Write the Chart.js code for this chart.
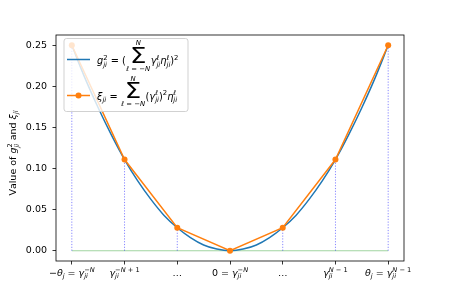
<!DOCTYPE html>
<html>
<head>
<meta charset="utf-8">
<script src="https://cdn.jsdelivr.net/npm/chart.js@4"></script>
<style>
  body { margin: 0; background: #fff; }
  #wrap { width: 449px; height: 285px; }
</style>
</head>
<body>
<div id="wrap"><canvas id="chart"></canvas></div>
<script>
// grid positions gamma_ji^l (in steps) and the xi values at them
const xPositions = [-3, -2, -1, 0, 1, 2, 3];
const xiValues = [0.25, 0.111, 0.028, 0, 0.028, 0.111, 0.25];

// smooth g^2 curve
const curveX = [-3, -2.75, -2.5, -2.25, -2, -1.75, -1.5, -1.25, -1, -0.75, -0.5, -0.25, 0,
                0.25, 0.5, 0.75, 1, 1.25, 1.5, 1.75, 2, 2.25, 2.5, 2.75, 3];
const curveY = [0.25, 0.210, 0.174, 0.141, 0.111, 0.085, 0.0625, 0.043, 0.028, 0.016, 0.007, 0.002, 0,
                0.002, 0.007, 0.016, 0.028, 0.043, 0.0625, 0.085, 0.111, 0.141, 0.174, 0.210, 0.25];

const yTicks = [0, 0.05, 0.10, 0.15, 0.20, 0.25];
const xTickLabels = [
  '$−θ_{j} = γ_{ji}^{−N}$',
  '$γ_{ji}^{−N + 1}$',
  '$…$',
  '$0 = γ_{ji}^{−N}$',
  '$…$',
  '$γ_{ji}^{N − 1}$',
  '$θ_{j} = γ_{ji}^{N − 1}$'
];
const legendLabels = [
  '$g_{ji}^{2} = (Σ_{ℓ = −N}^{N}γ_{ji}^{ℓ}η_{ji}^{ℓ})^{2}$',
  '$ξ_{ji} = Σ_{ℓ = −N}^{N}(γ_{ji}^{ℓ})^{2}η_{ji}^{ℓ}$'
];
const yLabel = 'Value of $g_{ji}^{2}$ and $ξ_{ji}$';

const BLUE = '#1f77b4';
const ORANGE = '#ff7f0e';
const FONT = '"DejaVu Sans"';

// --- tiny mathtext-ish renderer ---
function parseMath(s) {
  const out = [];
  let math = false, i = 0;
  while (i < s.length) {
    const c = s[i];
    if (c === '$') { math = !math; i++; continue; }
    if (c === '_' || c === '^') {
      i++;
      let g;
      if (s[i] === '{') { const j = s.indexOf('}', i); g = s.slice(i + 1, j); i = j + 1; }
      else { g = s[i]; i++; }
      const last = out[out.length - 1];
      last[c === '_' ? 'sub' : 'sup'] = g;
      continue;
    }
    out.push({ c: c, m: math });
    i++;
  }
  return out;
}

function fontFor(c, size, math) {
  return (math && /[A-Za-zα-ωℓ]/.test(c) ? 'italic ' : '') + size + 'px ' + FONT;
}
function runWidth(ctx, s, size, math) {
  let w = 0;
  for (const c of s) { ctx.font = fontFor(c, size, math); w += ctx.measureText(c).width; }
  return w;
}
function drawRun(ctx, s, x, y, size, math) {
  for (const c of s) {
    ctx.font = fontFor(c, size, math);
    ctx.fillText(c, x, y);
    x += ctx.measureText(c).width;
  }
  return x;
}

function tokenWidth(ctx, t, size) {
  const ss = size * 0.7;
  if (t.c === 'Σ' && t.m) {
    return Math.max(size * 16 / 9.5, runWidth(ctx, t.sub || '', ss, true), runWidth(ctx, t.sup || '', ss, true)) + 1;
  }
  const w = runWidth(ctx, t.c, size, t.m);
  return w + Math.max(runWidth(ctx, t.sup || '', ss, true), runWidth(ctx, t.sub || '', ss, true));
}

function drawMath(ctx, str, x, y, size, align) {
  const toks = parseMath(str);
  const ss = size * 0.7;
  const k = size / 9.5;
  let total = 0;
  toks.forEach(t => { total += tokenWidth(ctx, t, size); });
  if (align === 'center') x -= total / 2;
  ctx.textAlign = 'left';
  ctx.textBaseline = 'alphabetic';
  toks.forEach(t => {
    const w = tokenWidth(ctx, t, size);
    if (t.c === 'Σ' && t.m) {
      const cx = x + w / 2;
      ctx.save();
      ctx.font = (size * 2.15) + 'px ' + FONT;
      const gw = ctx.measureText('Σ').width;
      ctx.translate(cx, y - 1 * k);
      ctx.scale((16 * k) / gw, 1);
      ctx.fillText('Σ', -gw / 2, 0);
      ctx.restore();
      if (t.sup) drawRun(ctx, t.sup, cx - runWidth(ctx, t.sup, ss, true) / 2, y - 18 * k, ss, true);
      if (t.sub) drawRun(ctx, t.sub, cx - runWidth(ctx, t.sub, ss, true) / 2, y + 6.5 * k, ss, true);
    } else {
      const bx = drawRun(ctx, t.c, x, y, size, t.m);
      if (t.sup) drawRun(ctx, t.sup, bx, y - 0.42 * size, ss, true);
      if (t.sub) drawRun(ctx, t.sub, bx, y + (t.sup ? 0.3 : 0.22) * size, ss, true);
    }
    x += w;
  });
}

// frame, x tick labels, y label and legend
const decorPlugin = {
  id: 'decor',
  afterDraw(chart) {
    const ctx = chart.ctx;
    const a = chart.chartArea;
    const xs = chart.scales.x;
    ctx.save();
    ctx.strokeStyle = '#000';
    ctx.lineWidth = 0.8;
    ctx.strokeRect(a.left, a.top, a.right - a.left, a.bottom - a.top);

    ctx.fillStyle = '#000';
    xPositions.forEach((v, i) => {
      drawMath(ctx, xTickLabels[i], xs.getPixelForValue(v), 275.5, 9.5, 'center');
    });

    ctx.save();
    ctx.translate(16, 153);
    ctx.rotate(-Math.PI / 2);
    drawMath(ctx, yLabel, 0, 0, 9.5, 'center');
    ctx.restore();

    // legend box
    const bx = 64, by = 38.5, bw = 124, bh = 73, r = 2.5;
    ctx.beginPath();
    ctx.moveTo(bx + r, by);
    ctx.arcTo(bx + bw, by, bx + bw, by + bh, r);
    ctx.arcTo(bx + bw, by + bh, bx, by + bh, r);
    ctx.arcTo(bx, by + bh, bx, by, r);
    ctx.arcTo(bx, by, bx + bw, by, r);
    ctx.closePath();
    ctx.fillStyle = 'rgba(255,255,255,0.8)';
    ctx.fill();
    ctx.strokeStyle = 'rgba(204,204,204,0.9)';
    ctx.lineWidth = 1;
    ctx.stroke();

    ctx.lineWidth = 1.5;
    ctx.strokeStyle = BLUE;
    ctx.beginPath(); ctx.moveTo(67, 59.5); ctx.lineTo(90, 59.5); ctx.stroke();
    ctx.strokeStyle = ORANGE;
    ctx.beginPath(); ctx.moveTo(67, 95.5); ctx.lineTo(90, 95.5); ctx.stroke();
    ctx.fillStyle = ORANGE;
    ctx.beginPath(); ctx.arc(78.5, 95.5, 3, 0, Math.PI * 2); ctx.fill();

    ctx.fillStyle = '#000';
    drawMath(ctx, legendLabels[0], 97, 64, 9.8, 'left');
    drawMath(ctx, legendLabels[1], 97, 99.5, 9.8, 'left');
    ctx.restore();
  }
};

const datasets = [];
datasets.push({
  data: xPositions.map((x, i) => ({ x: x, y: xiValues[i] })),
  borderColor: ORANGE, backgroundColor: ORANGE, borderWidth: 1.5,
  pointRadius: 3, pointBorderWidth: 0, showLine: true, order: 0
});
datasets.push({
  data: curveX.map((x, i) => ({ x: x, y: curveY[i] })),
  borderColor: BLUE, borderWidth: 1.5, pointRadius: 0, showLine: true,
  cubicInterpolationMode: 'monotone', order: 1
});
xPositions.forEach((x, i) => {
  datasets.push({
    data: [{ x: x, y: 0 }, { x: x, y: xiValues[i] }],
    borderColor: 'rgba(0,0,255,0.6)', borderWidth: 0.8, borderDash: [1.2, 1.6],
    pointRadius: 0, showLine: true, order: 2
  });
});
datasets.push({
  data: [{ x: xPositions[0], y: 0 }, { x: xPositions[xPositions.length - 1], y: 0 }],
  borderColor: 'rgba(44,160,44,0.45)', borderWidth: 1.2, pointRadius: 0, showLine: true, order: 3
});

new Chart(document.getElementById('chart').getContext('2d'), {
  type: 'scatter',
  data: { datasets: datasets },
  options: {
    responsive: true,
    maintainAspectRatio: false,
    animation: false,
    layout: { padding: { left: 0, top: 35, right: 45, bottom: 0 } },
    plugins: { legend: { display: false }, tooltip: { enabled: false } },
    scales: {
      x: {
        type: 'linear', min: -3.3, max: 3.3,
        afterBuildTicks: s => { s.ticks = xPositions.map(v => ({ value: v })); },
        afterFit: s => { s.height = 24; },
        ticks: { display: false },
        grid: { drawOnChartArea: false, color: '#000', tickLength: 3.5, lineWidth: 0.8 },
        border: { display: false }
      },
      y: {
        min: -0.0125, max: 0.2625,
        afterBuildTicks: s => { s.ticks = yTicks.map(v => ({ value: v })); },
        afterFit: s => { s.width = 56; },
        ticks: {
          color: '#000', padding: 5.5,
          font: { family: 'DejaVu Sans', size: 9.5 },
          callback: v => v.toFixed(2)
        },
        grid: { drawOnChartArea: false, color: '#000', tickLength: 3.5, lineWidth: 0.8 },
        border: { display: false }
      }
    }
  },
  plugins: [decorPlugin]
});
</script>
</body>
</html>
